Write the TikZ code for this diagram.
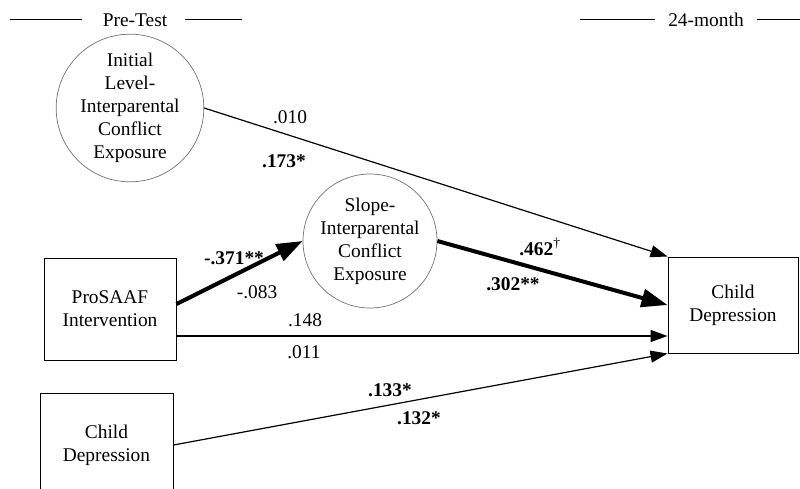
\documentclass[tikz,border=0pt]{standalone}
\usepackage{fontspec}
\setmainfont{Liberation Serif}
\usetikzlibrary{arrows.meta,calc}
\begin{document}
\begin{tikzpicture}[x=1pt,y=-1pt,
  font=\fontsize{19.4}{23}\selectfont,
  circ/.style={circle, draw=black!55, line width=0.7pt, inner sep=0pt, align=center},
  box/.style={draw, line width=1pt, align=center, inner sep=0pt},
  arrthin/.style={line width=1.2pt, -{Triangle[length=17pt,width=12pt]}},
  arrthick/.style={line width=4pt, -{Triangle[length=26pt,width=18pt]}},
  lab/.style={inner sep=1pt},
  hdr/.style={line width=1pt}
]
\clip (0,0) rectangle (800,488);
\fill[white] (0,0) rectangle (800,488);

% headers
\node[lab] (pre) at (135,20) {Pre-Test};
\coordinate (p1) at (10,19); \coordinate (p2) at (82,19);
\coordinate (p3) at (185,19); \coordinate (p4) at (242,19);
\draw[hdr] (p1) -- (p2);
\draw[hdr] (p3) -- (p4);
\node[lab] (post) at (706,20) {24-month};
\coordinate (q1) at (580,19); \coordinate (q2) at (655,19);
\coordinate (q3) at (757,19); \coordinate (q4) at (800,19);
\draw[hdr] (q1) -- (q2);
\draw[hdr] (q3) -- (q4);

% nodes
\node[circ, minimum size=144pt] (c1) at (130,108) {Initial\\Level-\\Interparental\\Conflict\\Exposure};
\node[circ, minimum size=134pt] (c2) at (370,241) {Slope-\\Interparental\\Conflict\\Exposure};
\node[box, minimum width=132pt, minimum height=102pt] (pbox) at (110,309) {ProSAAF\\Intervention};
\node[box, minimum width=133pt, minimum height=104pt] (cdl) at (106.5,445) {Child\\Depression};
\node[box, minimum width=130pt, minimum height=96pt] (rbox) at (733,305) {Child\\Depression};

% connectors
\coordinate (hs) at ([yshift=-27pt]pbox.east);
\coordinate (he) at (hs -| rbox.west);
\draw[arrthin] (c1.east) -- (rbox.north west);
\draw[arrthick] (c2.east) -- (rbox.west);
\draw[arrthick] ([yshift=5pt]pbox.east) -- (c2.west);
\draw[arrthin] (hs) -- (he);
\draw[arrthin] (cdl.east) -- (rbox.south west);

% labels
\node[lab] (l1) at (290,117) {.010};
\node[lab] (l2) at (284,161) {\textbf{.173*}};
\node[lab] (l3) at (234,258) {\textbf{-.371**}};
\node[lab] (l4) at (257,292) {-.083};
\node[lab] (l5) at (540,247) {\textbf{.462}\textsuperscript{\textdagger}};
\node[lab] (l6) at (513,284) {\textbf{.302**}};
\node[lab] (l7) at (305,320) {.148};
\node[lab] (l8) at (304,352) {.011};
\node[lab] (l9) at (390,390) {\textbf{.133*}};
\node[lab] (l10) at (419,418) {\textbf{.132*}};
\end{tikzpicture}
\end{document}
